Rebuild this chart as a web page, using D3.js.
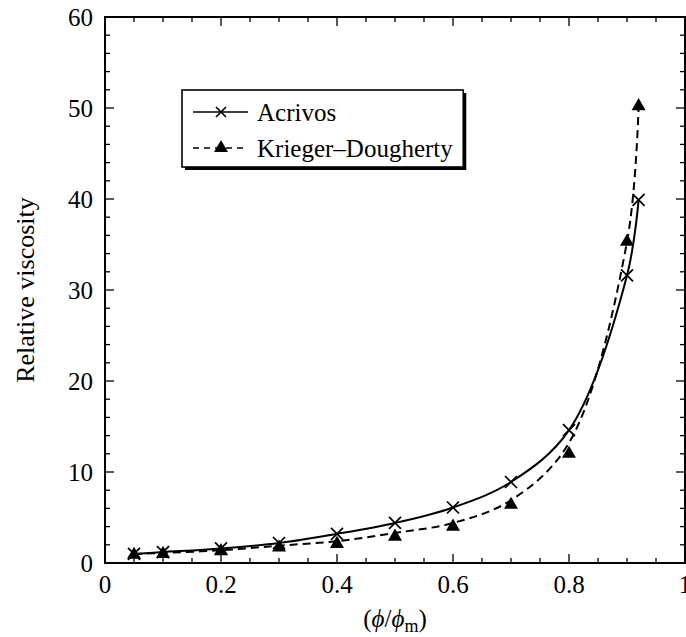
<!DOCTYPE html>
<html><head><meta charset="utf-8">
<script src="https://cdn.jsdelivr.net/npm/d3@7"></script>
<style>body{margin:0;background:#fff}svg{display:block}
svg text{font-family:"Liberation Serif","DejaVu Serif","Times New Roman",serif}</style>
</head><body>
<script>
// ---- data ----
const phiRatio   = [0.05, 0.1, 0.2, 0.3, 0.4, 0.5, 0.6, 0.7, 0.8, 0.9, 0.92];
const acrivos    = [1.0, 1.2, 1.6, 2.2, 3.2, 4.4, 6.1, 8.9, 14.6, 31.6, 39.9];
const kdPoints   = [0.9, 1.0, 1.3, 1.7, 2.1, 2.9, 4.0, 6.4, 12.0, 35.3, 50.2];
const kdCurve    = [1.0, 1.1, 1.4, 1.9, 2.4, 3.3, 4.4, 6.9, 13.2, 35.3, 50.2];
const seriesNames = ["Acrivos", "Krieger\u2013Dougherty"];
const xTickLabels = ["0", "0.2", "0.4", "0.6", "0.8", "1"];
const yTickLabels = ["0", "10", "20", "30", "40", "50", "60"];
const yTitle = "Relative viscosity";

const W = 686, H = 637;
const M = {left: 105, top: 17, right: 1, bottom: 74};

const svg = d3.select("body").append("svg").attr("width", W).attr("height", H);

const x = d3.scaleLinear().domain([0, 1]).range([M.left, W - M.right]);
const y = d3.scaleLinear().domain([0, 60]).range([H - M.bottom, M.top]);
const x0 = x.range()[0], x1 = x.range()[1], y0 = y.range()[0], y1 = y.range()[1];

// ---- ticks (inward on all four sides) ----
const xMinor = d3.range(0, 1.0001, 0.05);
const yMinor = d3.range(0, 60.001, 2);
const isXMajor = v => Math.abs(v * 5 - Math.round(v * 5)) < 1e-6;
const isYMajor = v => Math.abs(v / 10 - Math.round(v / 10)) < 1e-6;
const tg = svg.append("g").attr("stroke", "#000").attr("stroke-width", 1.3);
xMinor.forEach(v => {
  const L = isXMajor(v) ? 9 : 5;
  tg.append("line").attr("x1", x(v)).attr("x2", x(v)).attr("y1", y0).attr("y2", y0 - L);
  tg.append("line").attr("x1", x(v)).attr("x2", x(v)).attr("y1", y1).attr("y2", y1 + L);
});
yMinor.forEach(v => {
  const L = isYMajor(v) ? 9 : 5;
  tg.append("line").attr("y1", y(v)).attr("y2", y(v)).attr("x1", x0).attr("x2", x0 + L);
  tg.append("line").attr("y1", y(v)).attr("y2", y(v)).attr("x1", x1).attr("x2", x1 - L);
});

// frame
svg.append("rect").attr("x", x0).attr("y", y1).attr("width", x1 - x0).attr("height", y0 - y1)
  .attr("fill", "none").attr("stroke", "#000").attr("stroke-width", 2);

// tick labels
xTickLabels.forEach((t, i) => {
  svg.append("text").attr("x", x(i * 0.2)).attr("y", y0 + 30).attr("text-anchor", "middle")
    .attr("font-size", 25).text(t);
});
yTickLabels.forEach((t, i) => {
  svg.append("text").attr("x", x0 - 12).attr("y", y(i * 10)).attr("dy", "0.35em").attr("text-anchor", "end")
    .attr("font-size", 25).text(t);
});

// axis titles
svg.append("text").attr("transform", `translate(34,${(y0 + y1) / 2}) rotate(-90)`)
  .attr("text-anchor", "middle").attr("font-size", 26).text(yTitle);
const xt = svg.append("text").attr("x", (x0 + x1) / 2).attr("y", H - 10).attr("text-anchor", "middle")
  .attr("font-size", 25);
xt.append("tspan").text("(");
xt.append("tspan").attr("font-style", "italic").text("\u03D5");
xt.append("tspan").text("/");
xt.append("tspan").attr("font-style", "italic").text("\u03D5");
xt.append("tspan").attr("font-size", 18).attr("dy", 5).text("m");
xt.append("tspan").attr("dy", -5).text(")");

// ---- lines ----
const line = d3.line().x(d => x(d[0])).y(d => y(d[1])).curve(d3.curveCatmullRom.alpha(0.5));
svg.append("path").datum(phiRatio.map((p, i) => [p, acrivos[i]])).attr("d", line)
  .attr("fill", "none").attr("stroke", "#000").attr("stroke-width", 2);
svg.append("path").datum(phiRatio.map((p, i) => [p, kdCurve[i]])).attr("d", line)
  .attr("fill", "none").attr("stroke", "#000").attr("stroke-width", 2).attr("stroke-dasharray", "8,5");

// markers
const cross = (g, cx, cy, s) => {
  g.append("path").attr("d", `M${cx - s},${cy - s}L${cx + s},${cy + s}M${cx - s},${cy + s}L${cx + s},${cy - s}`)
    .attr("stroke", "#000").attr("stroke-width", 1.7).attr("fill", "none");
};
const tri = d3.symbol().type(d3.symbolTriangle).size(85);
const mg = svg.append("g");
phiRatio.forEach((p, i) => cross(mg, x(p), y(acrivos[i]), 6));
phiRatio.forEach((p, i) => {
  mg.append("path").attr("d", tri()).attr("transform", `translate(${x(p)},${y(kdPoints[i])})`).attr("fill", "#000");
});

// ---- legend ----
const lg = svg.append("g");
const lx = 182, ly = 90, rowY = [112, 148];
const texts = seriesNames.map((n, i) => lg.append("text").attr("x", 257).attr("y", rowY[i]).attr("dy", "0.35em")
  .attr("font-size", 25).text(n));
let maxR = 0;
texts.forEach(t => { const b = t.node().getBBox(); maxR = Math.max(maxR, b.x + b.width); });
const lw = maxR + 10 - lx, lh = 77;
lg.insert("rect", ":first-child").attr("x", lx + 3).attr("y", ly + 3).attr("width", lw).attr("height", lh).attr("fill", "#000");
lg.insert("rect", "text").attr("x", lx).attr("y", ly).attr("width", lw).attr("height", lh)
  .attr("fill", "#fff").attr("stroke", "#000").attr("stroke-width", 1.6);
lg.append("line").attr("x1", 193).attr("x2", 248).attr("y1", rowY[0]).attr("y2", rowY[0]).attr("stroke", "#000").attr("stroke-width", 1.6);
cross(lg, 221, rowY[0], 5);
lg.append("line").attr("x1", 193).attr("x2", 248).attr("y1", rowY[1]).attr("y2", rowY[1]).attr("stroke", "#000")
  .attr("stroke-width", 1.6).attr("stroke-dasharray", "6,5");
lg.append("path").attr("d", tri()).attr("transform", `translate(221,${rowY[1]})`).attr("fill", "#000");
</script>
</body></html>
